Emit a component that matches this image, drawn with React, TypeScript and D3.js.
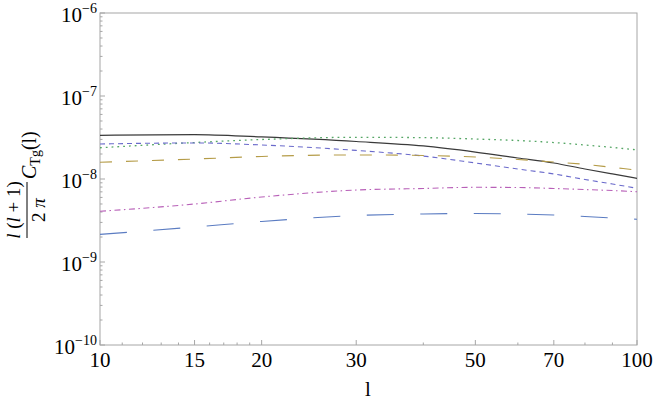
import React from "react";
import * as d3 from "d3";

const ells = [10, 15, 20, 30, 40, 50, 60, 70, 80, 90, 100];
const solidBlack = [3.36e-8, 3.43e-8, 3.21e-8, 2.83e-8, 2.5e-8, 2.11e-8, 1.79e-8, 1.56e-8, 1.32e-8, 1.15e-8, 1.02e-8];
const dottedGreen = [2.38e-8, 2.75e-8, 2.99e-8, 3.18e-8, 3.15e-8, 3.03e-8, 2.91e-8, 2.75e-8, 2.57e-8, 2.4e-8, 2.24e-8];
const dashedBlue = [2.64e-8, 2.72e-8, 2.57e-8, 2.21e-8, 1.89e-8, 1.56e-8, 1.32e-8, 1.15e-8, 9.86e-9, 8.71e-9, 7.73e-9];
const dashedGold = [1.59e-8, 1.74e-8, 1.87e-8, 1.95e-8, 1.92e-8, 1.84e-8, 1.72e-8, 1.6e-8, 1.5e-8, 1.38e-8, 1.28e-8];
const dotDashMagenta = [4.08e-9, 5.0e-9, 6.07e-9, 7.36e-9, 7.69e-9, 7.94e-9, 7.9e-9, 7.69e-9, 7.46e-9, 7.26e-9, 7.03e-9];
const longDashSteel = [2.15e-9, 2.64e-9, 3.08e-9, 3.63e-9, 3.79e-9, 3.84e-9, 3.79e-9, 3.68e-9, 3.53e-9, 3.39e-9, 3.27e-9];

const xMajorTicks = [10, 15, 20, 30, 50, 70, 100];
const xMinorTicks = [11, 12, 13, 14, 16, 17, 18, 19, 40, 60, 80, 90];
const yExponents = [-10, -9, -8, -7, -6];

const series = [
  { values: solidBlack, color: "#3a3a3a", dash: "none", width: 1.2 },
  { values: dottedGreen, color: "#55a665", dash: "1.8,4", width: 1.3 },
  { values: dashedBlue, color: "#6a6acb", dash: "5,4", width: 1.1 },
  { values: dashedGold, color: "#b59c48", dash: "12,14", width: 1.1 },
  { values: dotDashMagenta, color: "#b860b8", dash: "6,3.5,1.5,3.5", width: 1.1 },
  { values: longDashSteel, color: "#5b7cc2", dash: "27,26.5", width: 1.1 },
];

const W = 654;
const H = 401;
const left = 100;
const right = 637;
const top = 13;
const bottom = 345;

export default function App() {
  const x = d3.scaleLog().domain([10, 100]).range([left, right]);
  const y = d3.scaleLog().domain([1e-10, 1e-6]).range([bottom, top]);
  const line = d3
    .line<number>()
    .x((_, i) => x(ells[i]))
    .y((d) => y(d))
    .curve(d3.curveMonotoneX);

  const yMinor: number[] = [];
  for (let e = -10; e < -6; e++) {
    for (let k = 2; k <= 9; k++) yMinor.push(k * Math.pow(10, e));
  }

  const font = "'Liberation Serif', 'Times New Roman', serif";
  const axisColor = "#a6a6a6";

  return (
    <svg
      width={W}
      height={H}
      style={{ position: "absolute", left: 0, top: 0, background: "#fff" }}
      fontFamily={font}
    >
      <rect x={0} y={0} width={W} height={H} fill="#fff" />
      <defs>
        <clipPath id="plotclip">
          <rect x={left} y={top} width={right - left} height={bottom - top} />
        </clipPath>
      </defs>
      {/* frame */}
      <rect x={left} y={top} width={right - left} height={bottom - top} fill="none" stroke={axisColor} strokeWidth={1} />

      {/* y ticks */}
      {yExponents.map((e) => (
        <g key={"ym" + e}>
          <line x1={left} x2={left + 5} y1={y(Math.pow(10, e))} y2={y(Math.pow(10, e))} stroke={axisColor} />
          <text x={97} y={y(Math.pow(10, e)) + 9} textAnchor="end" fontSize={21} fill="#000">
            10
            <tspan dy={-9} fontSize={14}>{"\u2212" + Math.abs(e)}</tspan>
          </text>
        </g>
      ))}
      {yMinor.map((v, i) => (
        <line key={"yn" + i} x1={left} x2={left + 2.5} y1={y(v)} y2={y(v)} stroke={axisColor} />
      ))}

      {/* x ticks */}
      {xMajorTicks.map((t) => (
        <g key={"xm" + t}>
          <line x1={x(t)} x2={x(t)} y1={bottom} y2={bottom - 5} stroke={axisColor} />
          <text x={x(t)} y={bottom + 22} textAnchor="middle" fontSize={21} fill="#000">
            {t}
          </text>
        </g>
      ))}
      {xMinorTicks.map((t) => (
        <line key={"xn" + t} x1={x(t)} x2={x(t)} y1={bottom} y2={bottom - 2.5} stroke={axisColor} />
      ))}

      {/* axis labels */}
      <text x={368} y={396} textAnchor="middle" fontSize={21} fill="#000">
        l
      </text>
      <g transform="translate(27, 210) rotate(-90)" fill="#000">
        <text x={0} y={-7} textAnchor="middle" fontSize={19}>
          <tspan fontStyle="italic">l</tspan>
          {" ("}
          <tspan fontStyle="italic">l</tspan>
          {" + 1)"}
        </text>
        <line x1={-28} x2={28} y1={0} y2={0} stroke="#000" strokeWidth={1} />
        <text x={0} y={18} textAnchor="middle" fontSize={19}>
          {"2 "}
          <tspan fontStyle="italic">π</tspan>
        </text>
        <text x={31} y={9} textAnchor="start" fontSize={20}>
          <tspan fontStyle="italic">C</tspan>
          <tspan dy={4} fontSize={14}>Tg</tspan>
          <tspan dy={-4}>(l)</tspan>
        </text>
      </g>

      {/* curves */}
      <g clipPath="url(#plotclip)">
        {series.map((s, i) => (
          <path
            key={i}
            d={line(s.values) || ""}
            fill="none"
            stroke={s.color}
            strokeWidth={s.width}
            strokeDasharray={s.dash}
          />
        ))}
      </g>
    </svg>
  );
}
